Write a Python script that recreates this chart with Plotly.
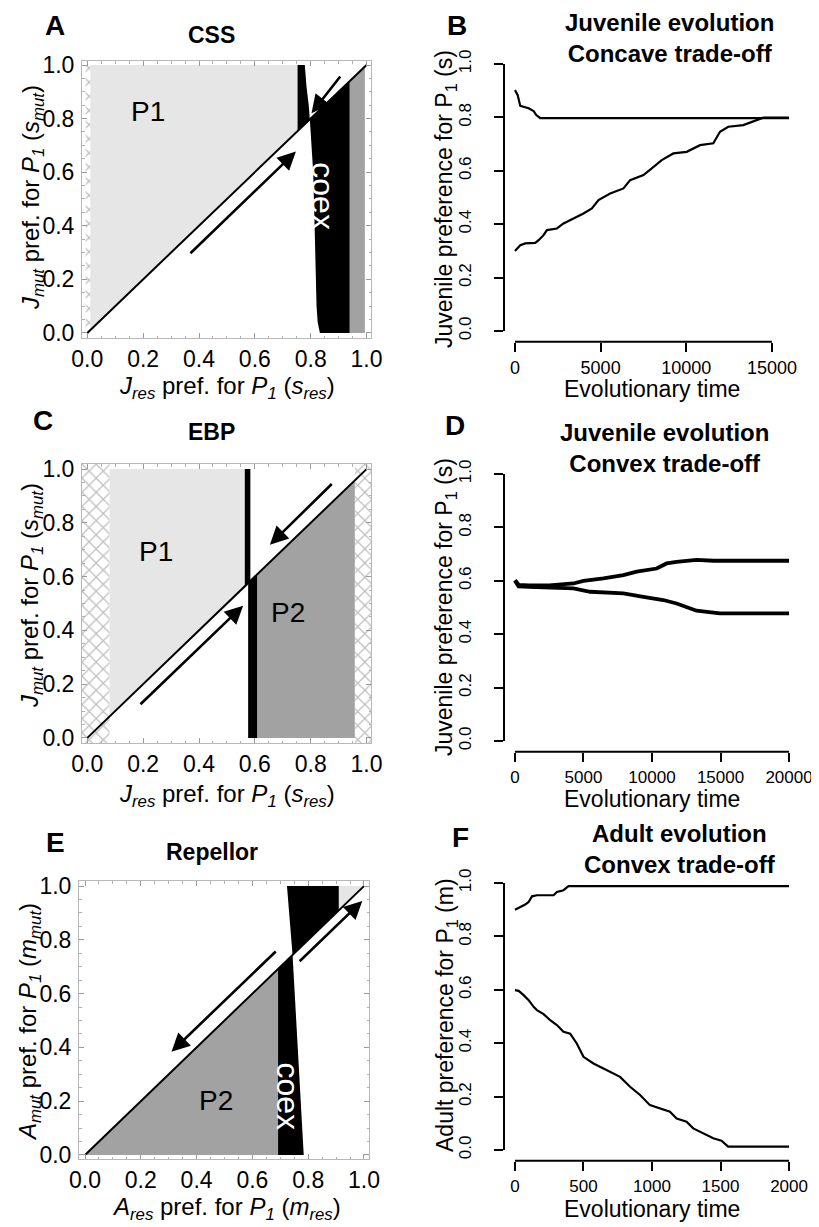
import plotly.graph_objects as go

# The page body adds an 8px margin at the top-left, so the figure is offset by it.
OFF = 8
W, H = 819 - OFF, 1227 - OFF
FONT = "Liberation Sans"

# ---------------- data: panel A (CSS) ----------------
A_hatch_x = [-0.006, 0.011, 0.011, -0.006]
A_hatch_y = [0.0, 0.0, 1.0, 1.0]
A_p1_x = [0.011, 0.011, 0.753, 0.753]
A_p1_y = [0.011, 1.0, 1.0, 0.753]
A_coexup_x = [0.753, 0.753, 0.779, 0.785, 0.793, 0.797]
A_coexup_y = [0.753, 1.0, 1.0, 0.92, 0.85, 0.797]
A_coexlo_x = [0.797, 0.803, 0.809, 0.814, 0.818, 0.821, 0.825, 0.833, 0.940, 0.940]
A_coexlo_y = [0.797, 0.70, 0.60, 0.40, 0.20, 0.10, 0.04, 0.0, 0.0, 0.940]
A_p2_x = [0.940, 0.994, 0.994, 0.940]
A_p2_y = [0.0, 0.0, 0.994, 0.940]
A_arrow_x0 = [0.364, 0.910]
A_arrow_y0 = [0.292, 0.963]
A_arrow_x1 = [0.747, 0.803]
A_arrow_y1 = [0.677, 0.820]

# ---------------- data: panel C (EBP) ----------------
C_hatchL_x = [-0.019, 0.080, 0.080, -0.019]
C_hatchL_y = [-0.019, -0.019, 1.019, 1.019]
C_hatchR_x = [0.958, 1.016, 1.016, 0.958]
C_hatchR_y = [-0.019, -0.019, 1.019, 1.019]
C_p1_x = [0.080, 0.080, 0.564, 0.564]
C_p1_y = [0.080, 1.0, 1.0, 0.564]
C_lineup_x = [0.564, 0.564, 0.584, 0.584]
C_lineup_y = [0.564, 1.0, 1.0, 0.584]
C_linelo_x = [0.576, 0.608, 0.608, 0.576]
C_linelo_y = [0.0, 0.0, 0.608, 0.576]
C_p2_x = [0.608, 0.958, 0.958, 0.608]
C_p2_y = [0.0, 0.0, 0.958, 0.608]
C_arrow_x0 = [0.185, 0.881]
C_arrow_y0 = [0.120, 0.950]
C_arrow_x1 = [0.558, 0.654]
C_arrow_y1 = [0.492, 0.719]

# ---------------- data: panel E (Repellor) ----------------
E_p2_x = [0.0, 0.692, 0.692]
E_p2_y = [0.0, 0.0, 0.692]
E_coexlo_x = [0.692, 0.784, 0.744, 0.692]
E_coexlo_y = [0.0, 0.0, 0.744, 0.692]
E_coexup_x = [0.744, 0.724, 0.910, 0.910]
E_coexup_y = [0.744, 1.0, 1.0, 0.910]
E_p1_x = [0.910, 0.910, 1.0]
E_p1_y = [0.910, 1.0, 1.0]
E_arrow_x0 = [0.689, 0.764]
E_arrow_y0 = [0.762, 0.715]
E_arrow_x1 = [0.310, 0.994]
E_arrow_y1 = [0.384, 0.945]

diag = [0.0, 1.0]

# ---------------- data: panel B ----------------
B_up_t = [0, 155, 311, 797, 1088, 1244, 1477, 16000]
B_up_s = [0.902, 0.884, 0.843, 0.834, 0.824, 0.809, 0.797, 0.797]
B_lo_t = [0, 311, 600, 1185, 1380, 1671, 1865, 2448, 2837, 3420, 4000, 4490, 4877,
          5557, 6334, 6723, 7500, 7986, 8568, 9249, 10026, 10803, 11580, 11969,
          12454, 13329, 14106, 14495, 16000]
B_lo_s = [0.30, 0.321, 0.328, 0.33, 0.34, 0.359, 0.378, 0.384, 0.403, 0.421, 0.44,
          0.459, 0.49, 0.515, 0.534, 0.565, 0.584, 0.609, 0.64, 0.665, 0.671, 0.696,
          0.703, 0.746, 0.765, 0.771, 0.79, 0.799, 0.799]

# ---------------- data: panel D ----------------
D_up_t = [0, 267, 1000, 2500, 4272, 5000, 6456, 7913, 8883, 10340, 11068, 11796,
          13252, 14500, 20000]
D_up_s = [0.602, 0.585, 0.583, 0.583, 0.590, 0.600, 0.609, 0.621, 0.634, 0.646,
          0.665, 0.671, 0.678, 0.675, 0.675]
D_lo_t = [0, 267, 1000, 2500, 4272, 5485, 7913, 9369, 10825, 11796, 12767, 13252,
          14951, 20000]
D_lo_s = [0.600, 0.579, 0.577, 0.576, 0.572, 0.559, 0.553, 0.540, 0.528, 0.515,
          0.496, 0.488, 0.478, 0.478]

# ---------------- data: panel F ----------------
F_up_t = [0, 39, 75, 100, 124, 160, 282, 306, 354, 391, 2000]
F_up_s = [0.90, 0.91, 0.919, 0.929, 0.95, 0.954, 0.954, 0.966, 0.973, 0.988, 0.988]
F_lo_t = [0, 27, 63, 100, 136, 160, 209, 257, 306, 354, 403, 451, 500, 573, 646,
          718, 767, 840, 913, 985, 1058, 1131, 1180, 1252, 1301, 1374, 1447, 1507,
          1556, 2000]
F_lo_s = [0.599, 0.596, 0.58, 0.561, 0.536, 0.524, 0.509, 0.486, 0.468, 0.443,
          0.436, 0.399, 0.349, 0.324, 0.305, 0.287, 0.274, 0.237, 0.206, 0.168,
          0.156, 0.143, 0.118, 0.106, 0.081, 0.062, 0.044, 0.035, 0.013, 0.013]

B_xticks = [0, 5000, 10000, 15000]
D_xticks = [0, 5000, 10000, 15000, 20000]
F_xticks = [0, 500, 1000, 1500, 2000]
R_yticks = [0.0, 0.2, 0.4, 0.6, 0.8, 1.0]

LIGHT = "#e6e6e6"
MID = "#a2a2a2"


def fx(p):
    return (p - OFF) / W


def fy(p):
    return 1 - (p - OFF) / H


fig = go.Figure()


def poly(xs, ys, color, ax, pattern=False):
    kw = dict(x=xs + [xs[0]], y=ys + [ys[0]], mode="lines", fill="toself",
              line=dict(width=0, color=color), hoverinfo="skip",
              xaxis="x" + ax, yaxis="y" + ax)
    if pattern:
        kw["fillcolor"] = "white"
        kw["fillpattern"] = dict(shape="x", fgcolor="#7a7a7a", bgcolor="white",
                                 size=10, solidity=0.22)
    else:
        kw["fillcolor"] = color
    fig.add_trace(go.Scatter(**kw))


def line(xs, ys, ax, width=2, color="black"):
    fig.add_trace(go.Scatter(x=xs, y=ys, mode="lines", line=dict(color=color, width=width),
                             hoverinfo="skip", xaxis="x" + ax, yaxis="y" + ax))


# Panel A -> axes "" (x, y)
poly(A_hatch_x, A_hatch_y, "white", "", pattern=True)
poly(A_p1_x, A_p1_y, LIGHT, "")
poly(A_coexup_x, A_coexup_y, "black", "")
poly(A_coexlo_x, A_coexlo_y, "black", "")
poly(A_p2_x, A_p2_y, MID, "")
line(diag, diag, "")

# Panel C -> axes "3"
poly(C_hatchL_x, C_hatchL_y, "white", "3", pattern=True)
poly(C_hatchR_x, C_hatchR_y, "white", "3", pattern=True)
poly(C_p1_x, C_p1_y, LIGHT, "3")
poly(C_p2_x, C_p2_y, MID, "3")
poly(C_lineup_x, C_lineup_y, "black", "3")
poly(C_linelo_x, C_linelo_y, "black", "3")
line(diag, diag, "3")

# Panel E -> axes "5"
poly(E_p2_x, E_p2_y, MID, "5")
poly(E_coexlo_x, E_coexlo_y, "black", "5")
poly(E_coexup_x, E_coexup_y, "black", "5")
poly(E_p1_x, E_p1_y, LIGHT, "5")
line(diag, diag, "5")

# Time series
line(B_up_t, B_up_s, "2", 2.2)
line(B_lo_t, B_lo_s, "2", 2.2)
line(D_up_t, D_up_s, "4", 3.8)
line(D_lo_t, D_lo_s, "4", 3.8)
line(F_up_t, F_up_s, "6", 2.2)
line(F_lo_t, F_lo_s, "6", 2.2)

# ---------- axes ----------
def frame_axis(rng, dom, **extra):
    d = dict(range=rng, domain=dom, showline=True, linecolor="#b8b8b8", linewidth=1,
             mirror="ticks", ticks="inside", ticklen=5, tickcolor="#9a9a9a", tickwidth=1,
             tick0=0, dtick=0.2, tickformat=".1f", showgrid=False, zeroline=False,
             automargin=False, ticklabeloverflow="allow",
             tickfont=dict(family=FONT, size=23, color="black"),
             minor=dict(ticks="inside", ticklen=2.5, tick0=0, dtick=0.05,
                        tickcolor="#b0b0b0", showgrid=False),
             layer="above traces", fixedrange=True)
    d.update(extra)
    return d


def r_axis(rng, dom, tickvals, angle=0, size=18, **extra):
    d = dict(range=rng, domain=dom, showline=False, ticks="outside", ticklen=9,
             tickwidth=2, tickcolor="black", tickvals=tickvals,
             ticktext=[("%.1f" % v) if isinstance(v, float) else str(v) for v in tickvals],
             tickangle=angle, showgrid=False, zeroline=False, automargin=False,
             ticklabeloverflow="allow",
             tickfont=dict(family=FONT, size=size, color="black"), fixedrange=True)
    d.update(extra)
    return d


layout = dict(
    width=W, height=H, margin=dict(l=0, r=0, t=0, b=0, autoexpand=False),
    paper_bgcolor="white", plot_bgcolor="white", showlegend=False,
    font=dict(family=FONT, color="black"),
    # Panel A
    xaxis=frame_axis([-0.019, 1.016], [fx(82), fx(371)], anchor="y", ticklabelstandoff=0),
    yaxis=frame_axis([-0.019, 1.015], [fy(338), fy(61)], anchor="x", ticklabelstandoff=2),
    # Panel C
    xaxis3=frame_axis([-0.019, 1.016], [fx(82), fx(371)], anchor="y3", ticklabelstandoff=0),
    yaxis3=frame_axis([-0.019, 1.019], [fy(743), fy(464)], anchor="x3", ticklabelstandoff=2),
    # Panel E
    xaxis5=frame_axis([-0.0215, 1.018], [fx(79), fx(369)], anchor="y5", ticklabelstandoff=0),
    yaxis5=frame_axis([-0.015, 1.019], [fy(1159), fy(881)], anchor="x5", ticklabelstandoff=2),
    # Panel B
    xaxis2=r_axis([-640, 16640], [fx(504), fx(800)], B_xticks, anchor="y2", ticklabelstandoff=1),
    yaxis2=r_axis([-0.04, 1.04], [fy(341.7), fy(53.3)], R_yticks, angle=-90, size=17,
                  anchor="x2", ticklabelstandoff=16),
    # Panel D
    xaxis4=r_axis([-800, 20800], [fx(504), fx(800)], D_xticks, anchor="y4", ticklabelstandoff=1,
                  tickfont=dict(family=FONT, size=17, color="black")),
    yaxis4=r_axis([-0.04, 1.04], [fy(751.7), fy(463.3)], R_yticks, angle=-90, size=17,
                  anchor="x4", ticklabelstandoff=16),
    # Panel F
    xaxis6=r_axis([-80, 2080], [fx(504), fx(800)], F_xticks, anchor="y6", ticklabelstandoff=1,
                  tickfont=dict(family=FONT, size=17, color="black")),
    yaxis6=r_axis([-0.04, 1.04], [fy(1160.7), fy(872.3)], R_yticks, angle=-90, size=17,
                  anchor="x6", ticklabelstandoff=16),
)
fig.update_layout(**layout)

# R-style axis lines (span first to last tick only)
shapes = []
for ax, xt in (("2", B_xticks), ("4", D_xticks), ("6", F_xticks)):
    shapes.append(dict(type="line", xref="x%s domain" % ax, yref="y" + ax, x0=0, x1=0,
                       y0=R_yticks[0], y1=R_yticks[-1], line=dict(color="black", width=2)))
    shapes.append(dict(type="line", xref="x" + ax, yref="y%s domain" % ax, x0=xt[0], x1=xt[-1],
                       y0=0, y1=0, line=dict(color="black", width=2)))
fig.update_layout(shapes=shapes)

ann = []


def arrows(ax, x0s, y0s, x1s, y1s):
    for a, b, c, d in zip(x0s, y0s, x1s, y1s):
        ann.append(dict(x=c, y=d, ax=a, ay=b, xref="x" + ax, yref="y" + ax,
                        axref="x" + ax, ayref="y" + ax, text="", showarrow=True,
                        arrowhead=2, arrowsize=1.4, arrowwidth=2.6, arrowcolor="black",
                        standoff=0, startstandoff=0))


arrows("", A_arrow_x0, A_arrow_y0, A_arrow_x1, A_arrow_y1)
arrows("3", C_arrow_x0, C_arrow_y0, C_arrow_x1, C_arrow_y1)
arrows("5", E_arrow_x0, E_arrow_y0, E_arrow_x1, E_arrow_y1)


def text_px(x, y, t, size, angle=0, color="black"):
    ann.append(dict(x=fx(x), y=fy(y), xref="paper", yref="paper", text=t, showarrow=False,
                    xanchor="center", yanchor="middle", textangle=angle,
                    font=dict(family=FONT, size=size, color=color)))


def text_data(ax, x, y, t, size, angle=0, color="black"):
    ann.append(dict(x=x, y=y, xref="x" + ax, yref="y" + ax, text=t, showarrow=False,
                    xanchor="center", yanchor="middle", textangle=angle,
                    font=dict(family=FONT, size=size, color=color)))


# in-plot region labels
text_data("", 0.217, 0.826, "P1", 28)
text_data("", 0.845, 0.509, "coex", 32, angle=90, color="white")
text_data("3", 0.247, 0.694, "P1", 28)
text_data("3", 0.719, 0.465, "P2", 28)
text_data("5", 0.471, 0.204, "P2", 28)
text_data("5", 0.728, 0.217, "coex", 32, angle=90, color="white")

# panel letters and titles
text_px(55, 25, "<b>A</b>", 28)
text_px(212, 35, "<b>CSS</b>", 23)
text_px(457, 25, "<b>B</b>", 28)
text_px(669, 38, "<b>Juvenile evolution<br>Concave trade-off</b>", 24)
text_px(43, 420, "<b>C</b>", 28)
text_px(212, 432, "<b>EBP</b>", 23)
text_px(455, 425, "<b>D</b>", 28)
text_px(664, 448, "<b>Juvenile evolution<br>Convex trade-off</b>", 24)
text_px(55, 842, "<b>E</b>", 28)
text_px(212, 852, "<b>Repellor</b>", 23)
text_px(460, 837, "<b>F</b>", 28)
text_px(680, 849, "<b>Adult evolution<br>Convex trade-off</b>", 24)

# axis titles, left column
jres = "<i>J</i><sub><i>res</i></sub> pref. for <i>P</i><sub><i>1</i></sub> (<i>s</i><sub><i>res</i></sub>)"
jmut = "<i>J</i><sub><i>mut</i></sub> pref. for <i>P</i><sub><i>1</i></sub> (<i>s</i><sub><i>mut</i></sub>)"
ares = "<i>A</i><sub><i>res</i></sub> pref. for <i>P</i><sub><i>1</i></sub> (<i>m</i><sub><i>res</i></sub>)"
amut = "<i>A</i><sub><i>mut</i></sub> pref. for <i>P</i><sub><i>1</i></sub> (<i>m</i><sub><i>mut</i></sub>)"
text_px(227, 387, jres, 24)
text_px(32, 198, jmut, 24, angle=-90)
text_px(227, 795, jres, 24)
text_px(31, 596, jmut, 24, angle=-90)
text_px(226, 1208, ares, 24)
text_px(29, 1022, amut, 24, angle=-90)

# axis titles, right column
text_px(652, 389, "Evolutionary time", 23)
text_px(446, 199, "Juvenile preference for P<sub>1</sub> (s)", 23, angle=-90)
text_px(652, 799, "Evolutionary time", 23)
text_px(446, 607, "Juvenile preference for P<sub>1</sub> (s)", 23, angle=-90)
text_px(652, 1209, "Evolutionary time", 23)
text_px(446, 1015, "Adult preference for P<sub>1</sub> (m)", 23, angle=-90)

fig.update_layout(annotations=ann)
fig.write_html("out.html")
